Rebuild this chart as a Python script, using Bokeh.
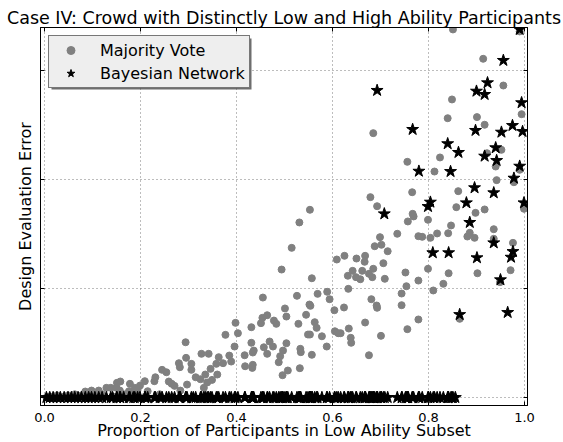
from bokeh.plotting import figure
from bokeh.models import Range1d, FixedTicker, LinearAxis, Legend, LegendItem, BoxAnnotation
from bokeh.embed import file_html
from bokeh.resources import INLINE

FONT = "DejaVu Sans"

title_text = "Case IV: Crowd with Distinctly Low and High Ability Participants"
x_label = "Proportion of Participants in Low Ability Subset"
y_label = "Design Evaluation Error"
x_ticks = [0.0, 0.2, 0.4, 0.6, 0.8, 1.0]
x_tick_labels = ["0.0", "0.2", "0.4", "0.6", "0.8", "1.0"]
y_ticks = [0, 1, 2, 3]

# Majority Vote (gray circles)
mv_x = [0.377, 0.398, 0.403, 0.294, 0.396, 0.385, 0.372, 0.363, 0.358, 0.327, 0.342, 0.280, 0.282, 0.295,
        0.306, 0.306, 0.346, 0.335, 0.360, 0.349, 0.315, 0.325, 0.339, 0.332, 0.297, 0.245, 0.254, 0.231,
        0.229, 0.259, 0.271, 0.265, 0.283, 0.209, 0.199, 0.188, 0.178, 0.194, 0.215, 0.158, 0.151, 0.150,
        0.138, 0.129, 0.157, 0.113, 0.098, 0.085, 0.176,
        0.679, 0.693, 0.553, 0.531, 0.515, 0.494, 0.557, 0.699, 0.688, 0.702, 0.715, 0.609, 0.625, 0.650,
        0.668, 0.667, 0.706, 0.632, 0.642, 0.649, 0.658, 0.662, 0.676, 0.685, 0.683, 0.709, 0.633, 0.589,
        0.569, 0.594, 0.526, 0.455, 0.681, 0.692, 0.693, 0.624, 0.604, 0.552, 0.554, 0.501, 0.504, 0.545,
        0.464, 0.454, 0.478, 0.483, 0.451, 0.529, 0.563, 0.567, 0.431, 0.634, 0.668, 0.605, 0.612, 0.617,
        0.549, 0.553, 0.578, 0.701, 0.638, 0.639, 0.431, 0.469, 0.476, 0.457, 0.504, 0.497, 0.491, 0.488,
        0.436, 0.434, 0.417, 0.464, 0.533, 0.534, 0.557, 0.588, 0.676, 0.418, 0.434, 0.433, 0.532, 0.507,
        0.496, 0.389,
        0.851, 0.990, 0.914, 0.956, 0.849, 0.840, 0.901, 0.917, 0.994, 0.952, 0.922, 0.940, 0.990, 0.824,
        0.8125, 0.756, 0.766, 0.862, 0.942, 0.978, 0.858, 0.898, 0.917, 0.767, 0.999, 0.685, 0.769, 0.757,
        0.799, 0.847, 0.735, 0.779, 0.787, 0.804, 0.818, 0.841, 0.886, 0.881, 0.896, 0.936, 0.936, 0.976,
        0.752, 0.779, 0.799, 0.842, 0.831, 0.810, 0.754, 0.744, 0.744, 0.902, 0.971, 0.949, 0.779, 0.756,
        0.865,
        0.004, 0.011, 0.018, 0.026, 0.033, 0.041, 0.049, 0.056, 0.063, 0.070, 0.077, 0.092, 0.105, 0.120,
        0.142, 0.165, 0.185, 0.210, 0.240]
mv_y = [0.575, 0.685, 0.590, 0.507, 0.468, 0.385, 0.315, 0.370, 0.309, 0.401, 0.401, 0.315, 0.278, 0.364,
        0.309, 0.254, 0.263, 0.211, 0.211, 0.162, 0.186, 0.168, 0.138, 0.089, 0.119, 0.254, 0.232, 0.186,
        0.150, 0.147, 0.107, 0.126, 0.064, 0.150, 0.110, 0.089, 0.126, 0.071, 0.058, 0.147, 0.135, 0.089,
        0.089, 0.089, 0.064, 0.064, 0.064, 0.055, 0.058,
        1.838, 1.755, 1.722, 1.606, 1.373, 1.174, 1.094, 1.471, 1.388, 1.401, 1.342, 1.266, 1.300, 1.275,
        1.300, 1.245, 1.232, 1.117, 1.162, 1.104, 1.085, 1.162, 1.135, 1.181, 1.104, 1.089, 0.997, 0.970,
        0.951, 0.902, 0.933, 0.917, 0.902, 0.844, 0.823, 0.826, 0.801, 0.853, 0.841, 0.817, 0.743, 0.759,
        0.755, 0.731, 0.706, 0.676, 0.682, 0.676, 0.691, 0.639, 0.645, 0.633, 0.688, 0.608, 0.590, 0.590,
        0.578, 0.578, 0.562, 0.566, 0.548, 0.502, 0.502, 0.514, 0.468, 0.461, 0.498, 0.431, 0.379, 0.324,
        0.431, 0.413, 0.388, 0.401, 0.447, 0.416, 0.392, 0.468, 0.388, 0.287, 0.300, 0.272, 0.269, 0.248,
        0.205, 0.330,
        3.376, 3.358, 3.107, 2.862, 2.734, 2.562, 2.572, 2.502, 2.599, 2.272, 2.241, 2.119, 2.089, 2.202,
        2.073, 2.162, 1.883, 1.893, 1.994, 1.975, 1.746, 1.694, 1.725, 1.685, 1.731, 2.425, 1.661, 1.615,
        1.630, 1.578, 1.502, 1.480, 1.474, 1.465, 1.505, 1.507, 1.511, 1.477, 1.465, 1.544, 1.456, 1.419,
        1.147, 1.073, 1.181, 1.140, 1.043, 0.982, 1.021, 0.954, 0.847, 1.140, 1.168, 1.058, 0.716, 0.627,
        0.722,
        0.000, 0.010, 0.000, 0.020, 0.000, 0.010, 0.020, 0.000, 0.030, 0.010, 0.020, 0.030, 0.020, 0.030,
        0.010, 0.030, 0.020, 0.010, 0.030]

# Bayesian Network (black stars) with non-zero error
bn_x = [0.990, 0.956, 0.923, 0.900, 0.917, 0.994, 0.767, 0.898, 0.952, 0.975, 0.996, 0.840, 0.8625,
        0.940, 0.917, 0.942, 0.990, 0.780, 0.846, 0.978, 0.896, 0.936, 0.804, 0.799, 0.879, 0.999, 0.708,
        0.693, 0.886, 0.936, 0.976, 0.972, 0.809, 0.842, 0.901, 0.950, 0.865, 0.965]
bn_y = [3.376, 3.092, 2.887, 2.810, 2.780, 2.704, 2.459, 2.450, 2.434, 2.495, 2.440, 2.328, 2.248,
        2.291, 2.214, 2.174, 2.122, 2.076, 2.073, 2.012, 1.924, 1.878, 1.792, 1.752, 1.786, 1.786, 1.685,
        2.817, 1.606, 1.419, 1.339, 1.287, 1.328, 1.328, 1.282, 1.080, 0.761, 0.780]

# Bayesian Network stars at zero error
bn_zero_x = [0.004, 0.011, 0.018, 0.026, 0.033, 0.041, 0.049, 0.056, 0.063, 0.070, 0.077, 0.085, 0.092,
             0.098, 0.105, 0.113, 0.120, 0.129, 0.138, 0.142, 0.150, 0.151, 0.157, 0.158, 0.165, 0.176,
             0.178, 0.185, 0.188, 0.194, 0.199, 0.209, 0.210, 0.215, 0.229, 0.231, 0.240, 0.245, 0.254,
             0.259, 0.265, 0.271, 0.280, 0.282, 0.283, 0.294, 0.295, 0.297, 0.306, 0.310, 0.315, 0.325,
             0.327, 0.332, 0.335, 0.339, 0.342, 0.346, 0.349, 0.358, 0.360, 0.363, 0.372, 0.377, 0.385,
             0.389, 0.396, 0.398, 0.403, 0.417, 0.418, 0.431, 0.432, 0.433, 0.434, 0.435, 0.436, 0.451,
             0.454, 0.455, 0.457, 0.464, 0.465, 0.469, 0.476, 0.478, 0.483, 0.488, 0.491, 0.494, 0.496,
             0.497, 0.501, 0.504, 0.505, 0.507, 0.515, 0.526, 0.529, 0.531, 0.532, 0.533, 0.534, 0.545,
             0.549, 0.552, 0.553, 0.554, 0.555, 0.557, 0.558, 0.563, 0.567, 0.569, 0.578, 0.588, 0.589,
             0.594, 0.604, 0.605, 0.609, 0.612, 0.617, 0.624, 0.625, 0.632, 0.633, 0.634, 0.638, 0.639,
             0.642, 0.649, 0.650, 0.658, 0.662, 0.667, 0.668, 0.669, 0.676, 0.677, 0.679, 0.681, 0.683,
             0.685, 0.686, 0.688, 0.692, 0.693, 0.694, 0.699, 0.701, 0.702, 0.706, 0.709, 0.715, 0.735,
             0.744, 0.745, 0.752, 0.754, 0.756, 0.757, 0.758, 0.766, 0.767, 0.769, 0.779, 0.780, 0.781,
             0.787, 0.799, 0.800, 0.804, 0.810, 0.8125, 0.818, 0.824, 0.831, 0.840, 0.841, 0.842, 0.847,
             0.849, 0.851, 0.856]

bn_all_x = bn_zero_x + bn_x
bn_all_y = [0.0 for _ in bn_zero_x] + bn_y

W, H = 563, 442
B_LEFT, B_RIGHT, B_TOP, B_BOTTOM = 40, 36, 27, 37

p = figure(width=W, height=H,
           x_range=Range1d(-0.0083, 1.0063), y_range=Range1d(-0.073, 3.394),
           output_backend="svg", toolbar_location=None,
           min_border_left=B_LEFT, min_border_right=B_RIGHT, min_border_top=B_TOP, min_border_bottom=B_BOTTOM,
           title=title_text, background_fill_color="white", border_fill_color="white")

p.title.text_font = FONT
p.title.text_font_size = "17.5px"
p.title.text_font_style = "normal"
p.title.text_color = "black"
p.title.align = "center"
p.title.standoff = 0

p.outline_line_color = "black"
p.outline_line_width = 1

xax = p.below[0]
xax.ticker = FixedTicker(ticks=x_ticks)
xax.major_label_overrides = {t: l for t, l in zip(x_ticks, x_tick_labels)}
xax.axis_label = x_label
yax = p.left[0]
yax.ticker = FixedTicker(ticks=y_ticks)
yax.major_label_overrides = {t: "" for t in y_ticks}
yax.axis_label = y_label

for ax in (xax, yax):
    ax.major_label_text_font = FONT
    ax.major_label_text_font_size = "13px"
    ax.major_label_text_color = "black"
    ax.axis_label_text_font = FONT
    ax.axis_label_text_font_size = "16px"
    ax.axis_label_text_font_style = "normal"
    ax.axis_label_text_color = "black"
    ax.major_tick_in = 4
    ax.major_tick_out = 0
    ax.minor_tick_line_color = None
    ax.axis_line_color = "black"
    ax.major_tick_line_color = "black"

xax.major_label_standoff = 7
xax.axis_label_standoff = -4
yax.major_label_standoff = 0
yax.axis_label_standoff = 6

right_ax = LinearAxis(ticker=FixedTicker(ticks=y_ticks), major_label_overrides={t: "" for t in y_ticks},
                      major_tick_in=4, major_tick_out=0, minor_tick_line_color=None,
                      major_label_standoff=0, axis_line_color="black")
top_ax = LinearAxis(ticker=FixedTicker(ticks=x_ticks), major_label_overrides={t: "" for t in x_ticks},
                    major_tick_in=4, major_tick_out=0, minor_tick_line_color=None,
                    major_label_standoff=2, axis_line_color="black")
p.add_layout(right_ax, "right")
p.add_layout(top_ax, "above")

p.xgrid.ticker = FixedTicker(ticks=x_ticks)
p.ygrid.ticker = FixedTicker(ticks=y_ticks)
for g in (p.xgrid, p.ygrid):
    g.grid_line_color = "#7a7a7a"
    g.grid_line_width = 1
    g.grid_line_dash = "1 3"

r_mv = p.scatter(mv_x, mv_y, marker="circle", size=7, fill_color="#808080", line_color="#808080")
r_bn = p.scatter(bn_all_x, bn_all_y, marker="star", size=12.5, fill_color="black", line_color="black")

# legend geometry (px) and its drop shadow (screen units are relative to the frame's bottom-left)
LEG_MARGIN, LEG_W, LEG_H, SHADOW = 8, 200, 51, 3
frame_h = H - B_TOP - B_BOTTOM
shadow = BoxAnnotation(left=LEG_MARGIN + SHADOW, right=LEG_MARGIN + SHADOW + LEG_W,
                       top=frame_h - LEG_MARGIN - SHADOW, bottom=frame_h - LEG_MARGIN - SHADOW - LEG_H,
                       left_units="screen", right_units="screen", top_units="screen", bottom_units="screen",
                       fill_color="#555555", fill_alpha=0.85, line_color=None)
p.add_layout(shadow)

legend = Legend(items=[LegendItem(label="Majority Vote", renderers=[r_mv]),
                       LegendItem(label="Bayesian Network", renderers=[r_bn])],
                location="top_left", margin=LEG_MARGIN, padding=4, spacing=3,
                glyph_width=35, glyph_height=20, label_standoff=12,
                label_text_font=FONT, label_text_font_size="16px", label_text_color="black",
                background_fill_color="#eeeeee", background_fill_alpha=1.0,
                border_line_color="black", border_line_width=1)
p.add_layout(legend)

open("out.html", "w").write(file_html(p, INLINE))
